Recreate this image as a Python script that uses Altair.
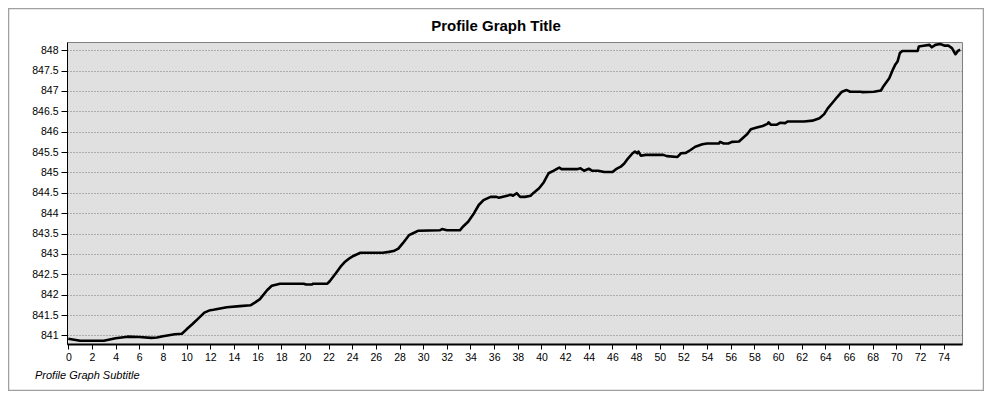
import altair as alt
import pandas as pd

title_text = "Profile Graph Title"
subtitle_text = "Profile Graph Subtitle"

dist = [0, 1, 3, 4, 5, 6, 7, 7.5, 8, 9, 9.6, 10, 10.5, 11, 11.5, 12, 12.27, 13.4, 14.5, 15.4,
        15.8, 16.2, 16.8, 17.2, 17.9, 19.9, 20.1, 20.6, 20.7, 21.9, 22.1, 22.6, 23.0, 23.4, 23.8,
        24.1, 24.7, 26.6, 27.1, 27.5, 27.9, 28.3, 28.8, 29.1, 29.6, 31.4, 31.6, 32.0, 33.1, 33.4,
        33.8, 34.3, 34.7, 35.1, 35.7, 36.2, 36.4, 37.1, 37.4, 37.6, 37.9, 38.2, 38.6, 39.1, 39.3,
        39.8, 40.2, 40.6, 41.0, 41.5, 41.7, 43.0, 43.3, 43.6, 44.0, 44.3, 44.8, 45.3, 46.0, 46.3,
        46.7, 47.0, 47.2, 47.7, 47.9, 48.1, 48.2, 48.4, 48.8, 50.3, 50.6, 51.5, 51.8, 52.2, 52.6,
        53.0, 53.6, 54.0, 55.0, 55.1, 55.4, 55.8, 56.1, 56.7, 57.0, 57.4, 57.7, 58.2, 58.7, 59.1,
        59.2, 59.4, 59.9, 60.2, 60.6, 60.8, 62.2, 62.9, 63.5, 63.9, 64.2, 64.6, 65.0, 65.4, 65.8,
        66.1, 67.0, 67.1, 68.1, 68.7, 68.9, 69.4, 69.7, 69.9, 70.1, 70.3, 70.5, 71.8, 71.9, 72.3,
        72.8, 73.0, 73.3, 73.7, 74.1, 74.4, 74.7, 75.0, 75.2, 75.4]

elev = [840.92, 840.87, 840.87, 840.93, 840.97, 840.96, 840.94, 840.95, 840.98, 841.03, 841.04,
        841.15, 841.28, 841.42, 841.56, 841.62, 841.63, 841.69, 841.72, 841.74, 841.81, 841.89,
        842.11, 842.22, 842.27, 842.27, 842.25, 842.25, 842.27, 842.27, 842.33, 842.52, 842.68,
        842.81, 842.90, 842.95, 843.03, 843.03, 843.05, 843.07, 843.13, 843.27, 843.46, 843.50,
        843.57, 843.58, 843.61, 843.58, 843.58, 843.68, 843.79, 844.00, 844.20, 844.32, 844.40,
        844.40, 844.38, 844.43, 844.45, 844.43, 844.49, 844.40, 844.40, 844.43, 844.49, 844.61,
        844.76, 844.98, 845.04, 845.12, 845.08, 845.08, 845.10, 845.04, 845.09, 845.04, 845.04,
        845.01, 845.01, 845.08, 845.14, 845.22, 845.30, 845.47, 845.51, 845.47, 845.51, 845.41,
        845.43, 845.43, 845.40, 845.38, 845.47, 845.48, 845.55, 845.63, 845.69, 845.71, 845.71,
        845.75, 845.71, 845.71, 845.75, 845.76, 845.84, 845.94, 846.06, 846.10, 846.14, 846.19,
        846.23, 846.17, 846.17, 846.22, 846.21, 846.25, 846.25, 846.27, 846.33, 846.43, 846.57,
        846.71, 846.85, 846.98, 847.02, 846.98, 846.98, 846.97, 846.98, 847.01, 847.11, 847.31,
        847.52, 847.64, 847.72, 847.93, 847.98, 847.98, 848.09, 848.11, 848.13, 848.07, 848.13,
        848.15, 848.11, 848.11, 848.05, 847.90, 847.98, 848.01]

x_ticks = list(range(0, 75, 2))
y_ticks = [841 + 0.5 * i for i in range(15)]

df = pd.DataFrame({"dist": dist, "elev": elev})
one = pd.DataFrame({"t": [title_text], "s": [subtitle_text]})

FONT = "Liberation Sans"

x_scale = alt.Scale(domain=[-0.11, 75.55], nice=False, zero=False)
y_scale = alt.Scale(domain=[840.79, 848.2], nice=False, zero=False)

line = alt.Chart(df).mark_line(color="black", strokeWidth=2.6, strokeJoin="round").encode(
    x=alt.X("dist:Q", scale=x_scale,
            axis=alt.Axis(values=x_ticks, format="d", title=None, grid=False,
                          domainColor="black", domainWidth=2, tickColor="black",
                          tickSize=5, labelPadding=3, labelFont=FONT, labelFontSize=10.5,
                          labelColor="black", labelFlush=False)),
    y=alt.Y("elev:Q", scale=y_scale,
            axis=alt.Axis(values=y_ticks, labelExpr="'' + datum.value", title=None,
                          grid=True, gridColor="#7a7a7a", gridDash=[1, 2], gridWidth=1,
                          domainColor="black", domainWidth=1, tickColor="black",
                          tickSize=6, labelPadding=3, labelFont=FONT, labelFontSize=10.5,
                          labelColor="black", labelFlush=False)),
)

border = alt.Chart(one).mark_rect(filled=False, stroke="#A0A0A0", strokeWidth=1.5).encode(
    x=alt.value(-58.5), x2=alt.value(916.5), y=alt.value(-33.5), y2=alt.value(348.5)
)

title = alt.Chart(one).mark_text(font=FONT, fontSize=15, fontWeight="bold", color="black",
                                 align="center", baseline="middle").encode(
    text="t:N", x=alt.value(429), y=alt.value(-16)
)

subtitle = alt.Chart(one).mark_text(font=FONT, fontSize=11, fontStyle="italic", color="black",
                                    align="left", baseline="middle").encode(
    text="s:N", x=alt.value(-32), y=alt.value(334)
)

chart = alt.layer(border, line, title, subtitle).properties(
    width=895, height=302,
    autosize=alt.AutoSizeParams(type="none"),
    padding={"left": 59, "top": 34, "right": 22, "bottom": 47},
    background="white",
).configure_view(
    fill="#E0E0E0", stroke="#808080", strokeWidth=1
)

chart.save("out.html", embed_options={"renderer": "svg", "actions": False})
